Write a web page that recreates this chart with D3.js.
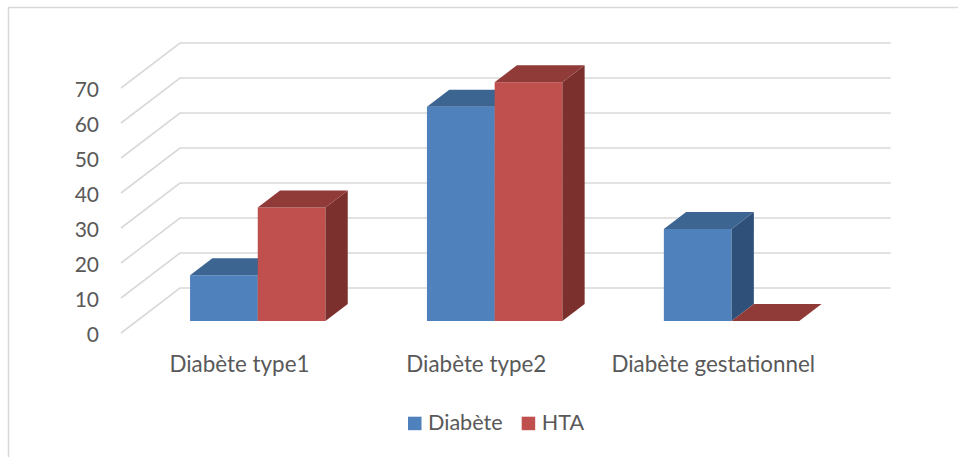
<!DOCTYPE html>
<html>
<head>
<meta charset="utf-8">
<script src="https://cdn.jsdelivr.net/npm/d3@7"></script>
<style>
  html, body { margin: 0; padding: 0; background: #fff; }
  svg { display: block; }
  text { font-family: Lato, "Open Sans", sans-serif; fill: #595959; }
</style>
</head>
<body>
<script>
// ---- data ----
const categories = ["Diabète type1", "Diabète type2", "Diabète gestationnel"];
const series = ["Diabète", "HTA"];
const diabeteValues = [13.1, 61.2, 26.3];
const htaValues = [32.4, 68.2, 0];
const tickValues = [0, 10, 20, 30, 40, 50, 60, 70];

const colors = {
  "Diabète": { front: "#4F81BD", top: "#3D6592", side: "#2F5179" },
  "HTA":     { front: "#C0504D", top: "#913B39", side: "#7C302E" }
};

const W = 958, H = 457;
const svg = d3.select("body").append("svg").attr("width", W).attr("height", H);

// chart border
svg.append("rect").attr("x", 8.5).attr("y", 7.5).attr("width", 960).attr("height", 460)
  .attr("fill", "none").attr("stroke", "#D9D9D9").attr("stroke-width", 1.5);

// oblique projection: front plane scales + depth vector
const depth = { dx: 59, dy: -45 };
const y = d3.scaleLinear().domain([0, 70]).range([333, 88]);
const x = d3.scaleBand().domain(categories).range([121, 831.7]);
const xs = d3.scaleBand().domain(series).range([53.3, 188.7]);
const proj = (px, v, z) => [px + z * depth.dx, y(v) + z * depth.dy];

// gridlines (side wall slant + back wall)
const grid = svg.append("g").attr("fill", "none").attr("stroke", "#D9D9D9").attr("stroke-width", 1.6);
tickValues.forEach(t => {
  const a = proj(121, t, 0), b = proj(121, t, 1);
  grid.append("path").attr("d", d3.line()([a, b, [890.7, b[1]]]));
});

// y tick labels
svg.append("g").selectAll("text").data(tickValues).join("text")
  .attr("x", 99).attr("y", d => y(d)).attr("text-anchor", "end")
  .attr("dominant-baseline", "central").attr("font-size", 21).text(d => d);

// bars
const z0 = 0.267, z1 = 0.645;
const rows = [];
categories.forEach((c, i) => {
  rows.push({ cat: c, s: "Diabète", v: diabeteValues[i] });
  rows.push({ cat: c, s: "HTA", v: htaValues[i] });
});
const gBars = svg.append("g");
rows.forEach(d => {
  const xl = x(d.cat) + xs(d.s), xr = xl + xs.bandwidth();
  const fl0 = proj(xl, 0, z0), fr0 = proj(xr, 0, z0), fl1 = proj(xl, d.v, z0), fr1 = proj(xr, d.v, z0);
  const bl1 = proj(xl, d.v, z1), br1 = proj(xr, d.v, z1), br0 = proj(xr, 0, z1);
  const col = colors[d.s];
  const g = gBars.append("g");
  g.append("path").attr("d", d3.line()([fl0, fr0, fr1, fl1]) + "Z").attr("fill", col.front);
  g.append("path").attr("d", d3.line()([fr0, br0, br1, fr1]) + "Z").attr("fill", col.side);
  g.append("path").attr("d", d3.line()([fl1, fr1, br1, bl1]) + "Z").attr("fill", col.top);
});

// category labels
svg.append("g").selectAll("text").data(categories).join("text")
  .attr("x", d => x(d) + x.bandwidth() / 2).attr("y", 371.5).attr("text-anchor", "middle")
  .attr("font-size", 22.4).text(d => d);

// legend
const legendX = { "Diabète": 408, "HTA": 521.7 };
const lg = svg.append("g");
series.forEach(s => {
  lg.append("rect").attr("x", legendX[s]).attr("y", 416.7).attr("width", 13.5).attr("height", 13.5)
    .attr("fill", colors[s].front);
  lg.append("text").attr("x", legendX[s] + 20).attr("y", 430).attr("font-size", 21.6).text(s);
});
</script>
</body>
</html>
